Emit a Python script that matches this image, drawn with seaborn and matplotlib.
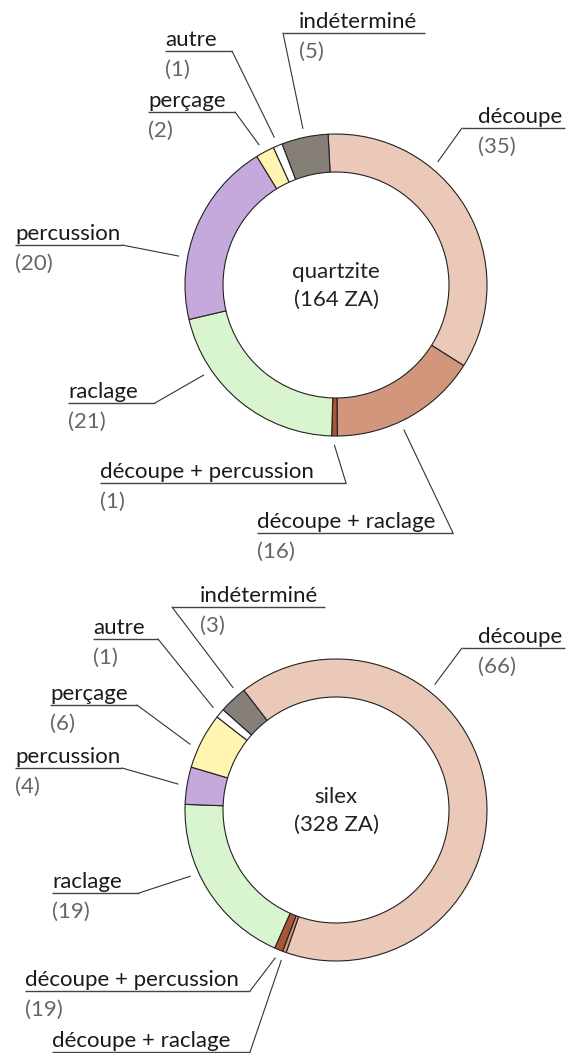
import matplotlib.pyplot as plt
import seaborn as sns
import numpy as np

sns.set_theme(style="white")
plt.rcParams['font.family'] = ['Lato', 'DejaVu Sans']

# donnees
categories = ['découpe', 'découpe + raclage', 'découpe + percussion', 'raclage',
              'percussion', 'perçage', 'autre', 'indéterminé']
couleurs = ['#ebc9b8', '#d1967c', '#a8553a', '#d9f5cf', '#c6a9dc', '#fff4b0', '#ffffff', '#857f77']

quartzite_vals = [35, 16, 0.6, 21, 20, 2, 1, 5]
quartzite_txt = ['(35)', '(16)', '(1)', '(21)', '(20)', '(2)', '(1)', '(5)']
silex_vals = [66, 0.4, 0.9, 19, 4, 6, 1, 3]
silex_txt = ['(66)', '', '(19)', '(19)', '(4)', '(6)', '(1)', '(3)']

W, H = 572, 1053

# mise en page des etiquettes : x0, x1, y du soulignement, cote de jonction, x du texte, position dans le secteur
lay_quartzite = [
    (462, 565, 128, 'left', 478, 0.34),
    (257, 453, 533, 'right', 257, 0.57),
    (100, 346, 483, 'right', 100, 0.5),
    (68, 155, 403, 'right', 68, 0.72),
    (15, 122, 245, 'right', 15, 0.33),
    (148, 235, 112, 'right', 148, 0.4),
    (165, 232, 51, 'right', 165, 0.5),
    (283, 425, 33, 'left', 299, 0.5),
]
lay_silex = [
    (462, 565, 648, 'left', 478, 0.32),
    (52, 250, 1052, 'right', 52, 0.5),
    (25, 250, 991, 'right', 25, 0.5),
    (52, 139, 893, 'right', 52, 0.61),
    (15, 122, 768, 'right', 15, 0.5),
    (50, 137, 705, 'right', 50, 0.36),
    (93, 158, 639, 'right', 93, 0.5),
    (172, 325, 607, 'left', 200, 0.77),
]

FS = 16
R, RW = 151, 38


def Y(y):
    return H - y


fig = plt.figure(figsize=(W / 100, H / 100), dpi=100)
ax = fig.add_axes([0, 0, 1, 1])


def donut(vals, txts, lay, cx, cy, start, titre, total):
    wedges, _ = ax.pie(vals, colors=couleurs, startangle=start, counterclock=False,
                       center=(cx, Y(cy)), radius=R,
                       wedgeprops=dict(width=RW, edgecolor='#222222', linewidth=0.8))
    ax.text(cx, Y(cy - 13), titre, ha='center', va='center', fontsize=FS, color='#222222')
    ax.text(cx, Y(cy + 15), total, ha='center', va='center', fontsize=FS, color='#222222')
    for w, nom, val, (x0, x1, y, side, tx, t) in zip(wedges, categories, txts, lay):
        ang = np.deg2rad(w.theta2 - t * (w.theta2 - w.theta1))
        ax_, ay_ = cx + (R + 9) * np.cos(ang), Y(cy) + (R + 9) * np.sin(ang)
        jx = x0 if side == 'left' else x1
        ax.plot([x0, x1], [Y(y), Y(y)], color='#444444', lw=1.0, solid_capstyle='butt')
        ax.plot([jx, ax_], [Y(y), ay_], color='#333333', lw=0.8)
        ax.text(tx, Y(y - 5), nom, ha='left', va='baseline', fontsize=FS, color='#1a1a1a')
        if val:
            ax.text(tx, Y(y + 19), val, ha='left', va='center', fontsize=FS, color='#666666')


donut(quartzite_vals, quartzite_txt, lay_quartzite, 336, 285, 93, 'quartzite', '(164 ZA)')
donut(silex_vals, silex_txt, lay_silex, 336, 810, 127.6, 'silex', '(328 ZA)')

ax.set_xlim(0, W)
ax.set_ylim(0, H)
ax.set_aspect('equal')
ax.axis('off')

plt.savefig('out.png', dpi=100)
plt.close()
